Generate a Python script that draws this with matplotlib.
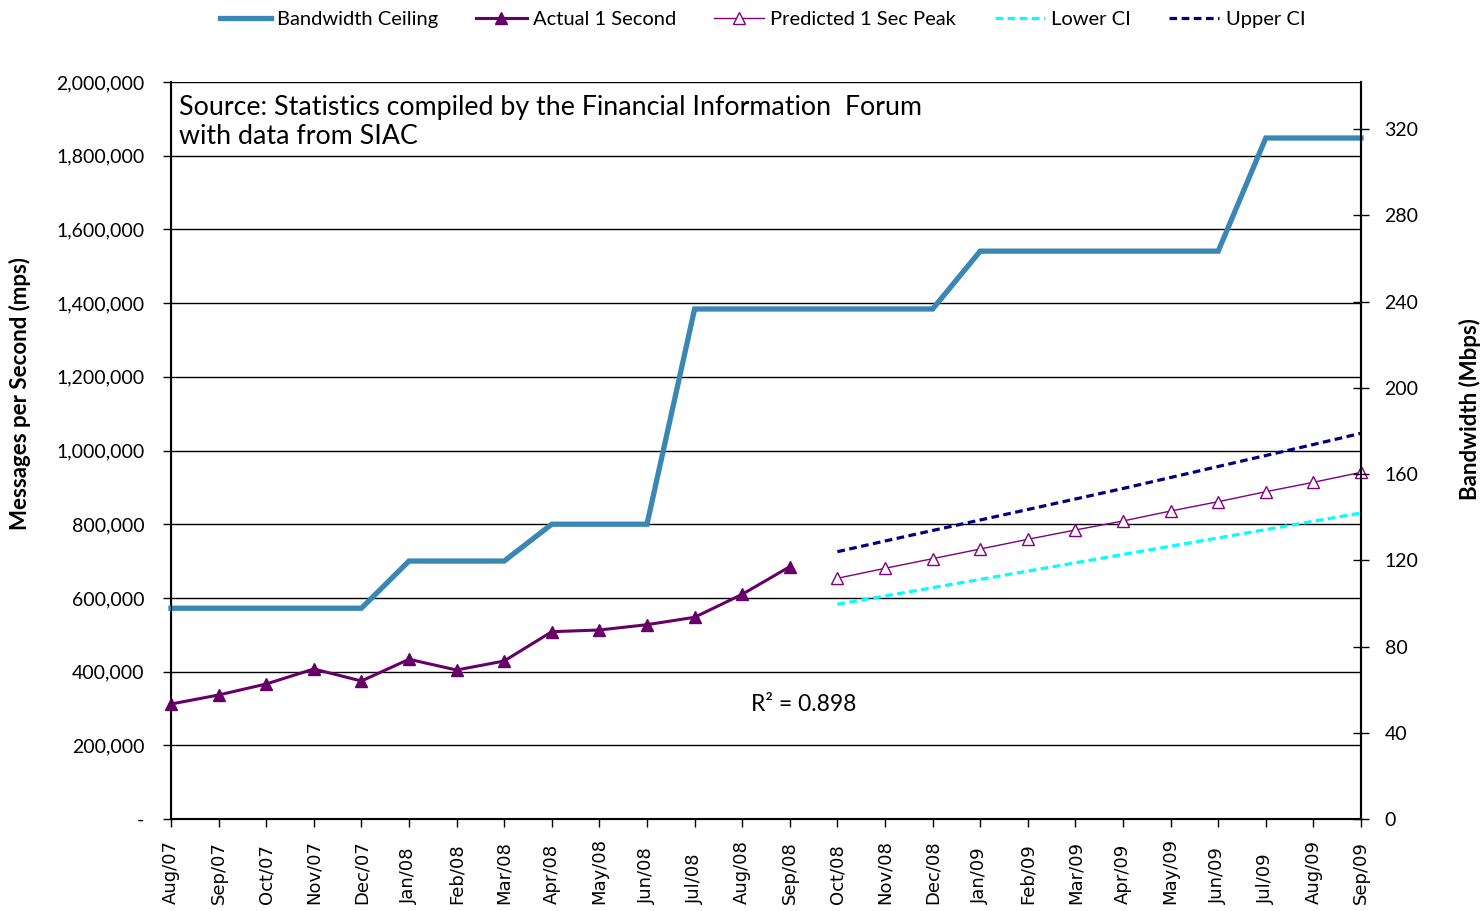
import numpy as np
import matplotlib
matplotlib.use("Agg")
import matplotlib.pyplot as plt
import matplotlib.transforms as mtransforms
from matplotlib.ticker import FuncFormatter

months = ["Aug/07", "Sep/07", "Oct/07", "Nov/07", "Dec/07", "Jan/08", "Feb/08", "Mar/08",
          "Apr/08", "May/08", "Jun/08", "Jul/08", "Aug/08", "Sep/08", "Oct/08", "Nov/08",
          "Dec/08", "Jan/09", "Feb/09", "Mar/09", "Apr/09", "May/09", "Jun/09", "Jul/09",
          "Aug/09", "Sep/09"]

# messages per second
bandwidth_ceiling = [572000] * 5 + [700000] * 3 + [800000] * 3 + [1384000] * 6 + \
                    [1541000] * 6 + [1848000] * 3
actual_1s = [312000, 336500, 366400, 407100, 374500, 433400, 404300, 428800,
             508300, 512900, 527300, 547400, 609800, 684700]
predicted = [653200, 680300, 706400, 732700, 759000, 784300, 808700, 835800,
             861100, 888200, 913700, 940800]
lower_ci = [582600, 605200, 627700, 650200, 672700, 695200, 717800, 740300,
            762800, 785300, 807900, 830400]
upper_ci = [725400, 754400, 782900, 811400, 839900, 868400, 896900, 926700,
            956600, 986400, 1016300, 1046700]

FONT = "Lato"
plt.rcParams["font.family"] = [FONT, "DejaVu Sans"]

fig = plt.figure(figsize=(14.81, 9.11), dpi=100)
ax = fig.add_axes([171 / 1481, 92 / 911, 1190 / 1481, 737 / 911])

x = np.arange(len(months))
xa = x[:len(actual_1s)]
xp = x[len(actual_1s):]

ax.plot(x, bandwidth_ceiling, color="#3A86B4", lw=3.8, label="Bandwidth Ceiling",
        solid_joinstyle="miter", clip_on=False, zorder=3)
ax.plot(xa, actual_1s, color="#660066", lw=2.2, marker="^", ms=9,
        label="Actual 1 Second", clip_on=False, zorder=4)
ax.plot(xp, predicted, color="#800080", lw=1, marker="^", ms=9, mfc="white",
        mew=1, label="Predicted 1 Sec Peak", clip_on=False, zorder=4)
ax.plot(xp, lower_ci, color="#00FFFF", lw=2.3, dashes=(2.4, 1.4), label="Lower CI",
        clip_on=False, zorder=3)
ax.plot(xp, upper_ci, color="#000080", lw=2.3, dashes=(2.4, 1.4), label="Upper CI",
        clip_on=False, zorder=3)

ax.set_xlim(0, len(months) - 1)
ax.set_ylim(0, 2000000)
ax.set_yticks(np.arange(0, 2000001, 200000))
ax.yaxis.set_major_formatter(FuncFormatter(lambda v, p: "-" if v == 0 else f"{int(v):,}"))
ax.set_xticks(x)
ax.set_xticklabels([])
# month labels: rotated, bottom-aligned like the original
trans = mtransforms.blended_transform_factory(ax.transData, fig.transFigure)
for xi, m in zip(x, months):
    ax.text(xi, 7 / 911, m, rotation=90, ha="center", va="bottom", fontsize=13,
            family=["DejaVu Sans"], transform=trans, clip_on=False)
ax.tick_params(axis="y", labelsize=14, direction="out", length=6, width=1, pad=13)
ax.tick_params(axis="x", direction="out", length=6, width=1)
ax.grid(axis="y", color="black", lw=1)
ax.set_axisbelow(True)
ax.spines["top"].set_visible(False)
for s in ["left", "bottom", "right"]:
    ax.spines[s].set_linewidth(1.5)

ax2 = ax.twinx()
ax2.set_ylim(0, 341.8)
ax2.set_yticks(np.arange(0, 321, 40))
ax2.tick_params(axis="y", labelsize=14, direction="inout", length=12, width=1, pad=11)
ax2.spines["top"].set_visible(False)
ax2.spines["right"].set_linewidth(1.5)

fig.text(20 / 1481, 1 - 394 / 911, "Messages per Second (mps)", rotation=90,
         fontsize=16, fontweight="bold", ha="center", va="center")
fig.text(1470 / 1481, 1 - 409 / 911, "Bandwidth (Mbps)", rotation=90,
         fontsize=16, fontweight="bold", ha="center", va="center")

ax.text(0.007, 0.982, "Source: Statistics compiled by the Financial Information  Forum\nwith data from SIAC",
        transform=ax.transAxes, fontsize=19.3, va="top", ha="left", linespacing=1.2)
ax.text(13.3, 310000, "R² = 0.898", fontsize=16.5, ha="center", va="center")

fig.legend(loc="upper center", bbox_to_anchor=(0.515, 1.008), ncol=5, frameon=False,
           fontsize=14.5, handlelength=2.5, columnspacing=1.9, handletextpad=0.3)

fig.savefig("out.png", dpi=100)
